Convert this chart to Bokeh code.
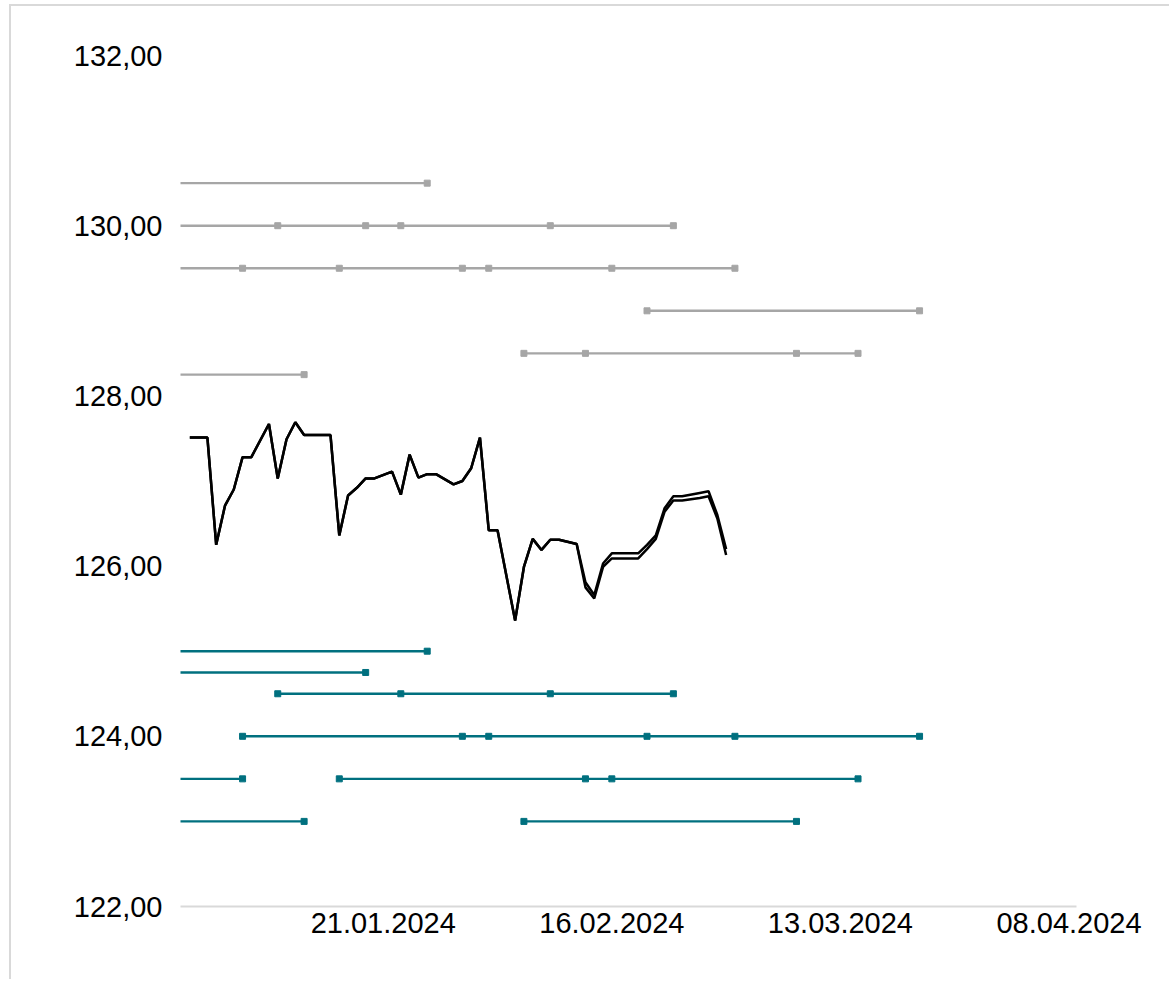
from datetime import datetime, timedelta
from bokeh.plotting import figure
from bokeh.models import Range1d, FixedTicker, DatetimeTickFormatter
from bokeh.embed import file_html
from bokeh.resources import INLINE

# ---------------- data ----------------
price_dates = [
    "2023-12-30", "2024-01-01", "2024-01-02", "2024-01-03", "2024-01-04", "2024-01-05",
    "2024-01-06", "2024-01-08", "2024-01-09", "2024-01-10", "2024-01-11", "2024-01-12",
    "2024-01-13", "2024-01-15", "2024-01-16", "2024-01-17", "2024-01-18", "2024-01-19",
    "2024-01-20", "2024-01-22", "2024-01-23", "2024-01-24", "2024-01-25", "2024-01-26",
    "2024-01-27", "2024-01-29", "2024-01-30", "2024-01-31", "2024-02-01", "2024-02-02",
    "2024-02-03", "2024-02-05", "2024-02-06", "2024-02-07", "2024-02-08", "2024-02-09",
    "2024-02-10", "2024-02-12", "2024-02-13", "2024-02-14", "2024-02-15", "2024-02-16",
    "2024-02-17", "2024-02-19", "2024-02-20", "2024-02-21", "2024-02-22", "2024-02-23",
    "2024-02-24", "2024-02-26", "2024-02-27", "2024-02-28", "2024-02-29",
]
price_a = [
    127.51, 127.51, 126.25, 126.71, 126.90, 127.28,
    127.28, 127.67, 127.03, 127.49, 127.69, 127.54,
    127.54, 127.54, 126.36, 126.83, 126.92, 127.03,
    127.03, 127.11, 126.84, 127.31, 127.04, 127.08,
    127.08, 126.96, 127.00, 127.15, 127.51, 126.42,
    126.42, 125.36, 125.99, 126.32, 126.19, 126.31,
    126.31, 126.26, 125.81, 125.66, 126.03, 126.15,
    126.15, 126.15, 126.25, 126.36, 126.68, 126.82,
    126.82, 126.86, 126.88, 126.60, 126.20,
]
price_b = [
    127.51, 127.51, 126.25, 126.71, 126.90, 127.28,
    127.28, 127.67, 127.03, 127.49, 127.69, 127.54,
    127.54, 127.54, 126.36, 126.83, 126.92, 127.03,
    127.03, 127.11, 126.84, 127.31, 127.04, 127.08,
    127.08, 126.96, 127.00, 127.15, 127.51, 126.42,
    126.42, 125.36, 125.99, 126.32, 126.19, 126.31,
    126.31, 126.26, 125.75, 125.62, 125.99, 126.09,
    126.09, 126.09, 126.20, 126.32, 126.64, 126.77,
    126.77, 126.80, 126.82, 126.56, 126.13,
]

# horizontal level segments above the price (grey)
upper_levels = [130.5, 130.0, 129.5, 129.0, 128.5, 128.25]
upper_segments = [
    [["2023-12-20", "2024-01-26"]],
    [["2023-12-20", "2024-01-09", "2024-01-19", "2024-01-23", "2024-02-09", "2024-02-23"]],
    [["2023-12-20", "2024-01-05", "2024-01-16", "2024-01-30", "2024-02-02", "2024-02-16", "2024-03-01"]],
    [["2024-02-20", "2024-03-22"]],
    [["2024-02-06", "2024-02-13", "2024-03-08", "2024-03-15"]],
    [["2023-12-20", "2024-01-12"]],
]

# horizontal level segments below the price (teal)
lower_levels = [125.0, 124.75, 124.5, 124.0, 123.5, 123.0]
lower_segments = [
    [["2023-12-20", "2024-01-26"]],
    [["2023-12-20", "2024-01-19"]],
    [["2024-01-09", "2024-01-23", "2024-02-09", "2024-02-23"]],
    [["2024-01-05", "2024-01-30", "2024-02-02", "2024-02-20", "2024-03-01", "2024-03-22"]],
    [["2023-12-20", "2024-01-05"], ["2024-01-16", "2024-02-13", "2024-02-16", "2024-03-15"]],
    [["2023-12-20", "2024-01-12"], ["2024-02-06", "2024-03-08"]],
]

y_ticks = [122, 124, 126, 128, 130, 132]
y_tick_labels = ["122,00", "124,00", "126,00", "128,00", "130,00", "132,00"]
x_tick_labels = ["21.01.2024", "16.02.2024", "13.03.2024", "08.04.2024"]

x_min = "2023-12-28 22:34"
x_max = "2024-04-08 20:24"

# ---------------- helpers ----------------
def d(s):
    return datetime.strptime(s, "%Y-%m-%d")

EPOCH = datetime(1970, 1, 1)

def ms(t):
    return (t - EPOCH).total_seconds() * 1000.0

GREY = "#A6A6A6"
TEAL = "#00707F"
FONT = "Liberation Sans"

p = figure(
    width=1160, height=975,
    x_axis_type="datetime",
    x_range=Range1d(datetime.strptime(x_min, "%Y-%m-%d %H:%M"),
                    datetime.strptime(x_max, "%Y-%m-%d %H:%M")),
    y_range=Range1d(122, 132),
    output_backend="svg", toolbar_location=None,
    min_border_left=169, min_border_right=95, min_border_top=49, min_border_bottom=75,
)
p.styles = {
    "margin-left": "9px", "margin-top": "4px",
    "border-left": "2px solid #D9D9D9", "border-top": "2px solid #D9D9D9",
}
p.outline_line_color = None
p.xgrid.visible = False
p.ygrid.visible = False
p.background_fill_color = "white"
p.border_fill_color = "white"

# level segments
for levels, segs, col in ((upper_levels, upper_segments, GREY), (lower_levels, lower_segments, TEAL)):
    for lvl, row in zip(levels, segs):
        for seg in row:
            xs = [d(s) for s in seg]
            ys = [lvl] * len(xs)
            p.line(xs, ys, line_color=col, line_width=2.4)
            p.scatter(xs, ys, marker="square", size=6, fill_color=col, line_color=col)

# price lines
px = [d(s) for s in price_dates]
p.line(px, price_b, line_color="black", line_width=2.5)
p.line(px, price_a, line_color="black", line_width=2.5)

# axes
p.yaxis.ticker = FixedTicker(ticks=y_ticks)
p.yaxis.major_label_overrides = {t: l for t, l in zip(y_ticks, y_tick_labels)}
p.yaxis.axis_line_color = None
p.yaxis.major_tick_line_color = None
p.yaxis.minor_tick_line_color = None
p.yaxis.major_tick_out = 0
p.yaxis.major_tick_in = 0
p.yaxis.major_label_standoff = 18
p.yaxis.major_label_text_font = FONT
p.yaxis.major_label_text_font_size = "29px"
p.yaxis.major_label_text_color = "black"

x_ticks = [ms(datetime.strptime(l, "%d.%m.%Y")) for l in x_tick_labels]
p.xaxis.ticker = FixedTicker(ticks=x_ticks)
fmt = "%d.%m.%Y"
p.xaxis.formatter = DatetimeTickFormatter(
    microseconds=fmt, milliseconds=fmt, seconds=fmt, minsec=fmt, minutes=fmt,
    hourmin=fmt, hours=fmt, days=fmt, months=fmt, years=fmt,
)
p.xaxis.axis_line_color = "#D9D9D9"
p.xaxis.axis_line_width = 2
p.xaxis.major_tick_line_color = None
p.xaxis.minor_tick_line_color = None
p.xaxis.major_tick_out = 0
p.xaxis.major_tick_in = 0
p.xaxis.major_label_standoff = 6
p.xaxis.major_label_text_font = FONT
p.xaxis.major_label_text_font_size = "29px"
p.xaxis.major_label_text_color = "black"

open("out.html", "w").write(file_html(p, INLINE))
